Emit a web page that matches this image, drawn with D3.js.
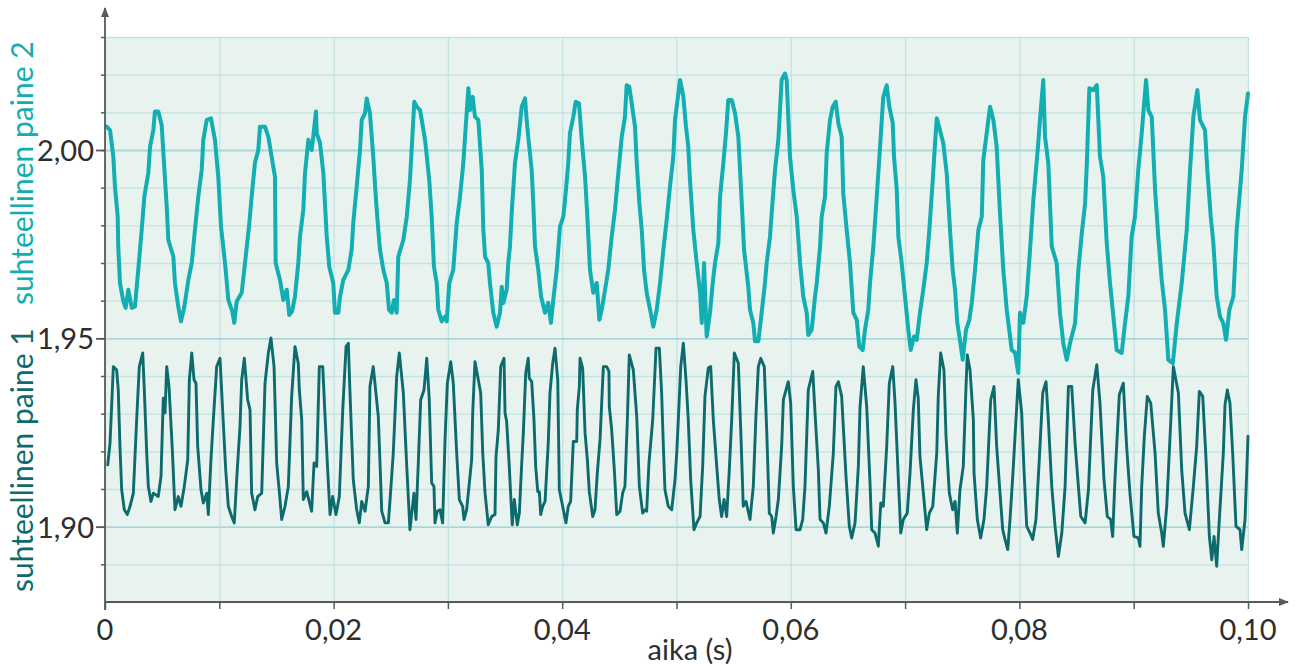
<!DOCTYPE html>
<html>
<head>
<meta charset="utf-8">
<script src="https://cdn.jsdelivr.net/npm/d3@7"></script>
<style>
  body { margin: 0; background: #ffffff; }
  svg { display: block; }
  text { font-family: Lato, "Open Sans", "Noto Sans", sans-serif; }
</style>
</head>
<body>
<svg id="chart" width="1296" height="665"></svg>
<script>
// Relative pressure 2 (upper trace): [time in ms, pressure]
const paine2 = [
  [0.15,2.0062],[0.44,2.0053],[0.73,1.9982],[0.87,1.9903],[1.11,1.9823],[1.16,1.9744],[1.31,1.9647],[1.60,1.9598],[1.81,1.9581],[2.04,1.9629],
  [2.34,1.9581],[2.62,1.9584],[2.91,1.9682],[3.21,1.9788],[3.44,1.9876],[3.79,1.9939],[3.94,2.0009],[4.23,2.0053],[4.37,2.0102],[4.66,2.0102],
  [4.96,2.0066],[5.16,1.9966],[5.40,1.9850],[5.54,1.9761],[5.98,1.9717],[6.12,1.9647],[6.41,1.9584],[6.65,1.9545],[6.94,1.9584],[7.29,1.9655],
  [7.59,1.9700],[7.87,1.9788],[8.16,1.9876],[8.46,1.9947],[8.60,2.0027],[8.90,2.0080],[9.27,2.0084],[9.62,2.0027],[9.91,1.9929],[10.15,1.9797],
  [10.50,1.9700],[10.79,1.9602],[11.14,1.9571],[11.31,1.9541],[11.52,1.9598],[11.96,1.9621],[12.25,1.9700],[12.60,1.9797],[12.83,1.9876],[13.12,1.9966],
  [13.41,2.0000],[13.56,2.0062],[14.00,2.0062],[14.29,2.0035],[14.58,1.9982],[14.87,1.9929],[14.93,1.9700],[15.31,1.9655],[15.60,1.9602],[15.90,1.9629],
  [16.12,1.9562],[16.36,1.9571],[16.62,1.9611],[16.91,1.9700],[17.06,1.9770],[17.35,1.9841],[17.50,1.9939],[17.79,2.0027],[18.08,2.0000],[18.22,2.0035],
  [18.46,2.0102],[18.52,2.0045],[18.81,2.0019],[19.10,1.9939],[19.40,1.9770],[19.62,1.9690],[19.97,1.9647],[20.12,1.9568],[20.41,1.9568],[20.56,1.9611],
  [20.85,1.9655],[21.29,1.9682],[21.58,1.9735],[21.72,1.9806],[22.02,1.9903],[22.31,2.0000],[22.46,2.0080],[22.75,2.0098],[22.90,2.0137],[23.18,2.0098],
  [23.47,1.9982],[23.71,1.9867],[23.91,1.9788],[24.06,1.9735],[24.35,1.9682],[24.65,1.9647],[24.85,1.9576],[25.08,1.9568],[25.28,1.9602],[25.52,1.9568],
  [25.66,1.9717],[26.10,1.9761],[26.40,1.9823],[26.68,1.9920],[26.89,2.0035],[27.06,2.0128],[27.27,2.0115],[27.56,2.0106],[27.71,2.0080],[28.00,2.0027],
  [28.37,1.9920],[28.58,1.9823],[28.78,1.9690],[29.02,1.9647],[29.16,1.9576],[29.46,1.9545],[29.75,1.9558],[29.90,1.9545],[30.12,1.9647],[30.47,1.9682],
  [30.77,1.9806],[31.06,1.9876],[31.35,1.9966],[31.56,2.0062],[31.79,2.0164],[31.93,2.0106],[32.17,2.0141],[32.37,2.0088],[32.66,2.0080],[32.96,1.9947],
  [33.10,1.9788],[33.25,1.9717],[33.53,1.9700],[33.68,1.9647],[33.97,1.9568],[34.27,1.9531],[34.56,1.9568],[34.71,1.9637],[34.85,1.9594],[35.14,1.9629],
  [35.28,1.9700],[35.43,1.9744],[35.58,1.9833],[35.87,1.9966],[36.16,2.0027],[36.46,2.0115],[36.75,2.0137],[36.89,2.0080],[37.03,2.0035],[37.33,1.9947],
  [37.47,1.9859],[37.62,1.9744],[37.91,1.9682],[38.15,1.9611],[38.50,1.9568],[38.78,1.9594],[39.02,1.9541],[39.22,1.9602],[39.52,1.9682],[39.81,1.9797],
  [40.10,1.9823],[40.33,1.9894],[40.53,1.9966],[40.68,2.0045],[40.97,2.0088],[41.18,2.0128],[41.47,2.0124],[41.71,2.0027],[42.00,1.9929],[42.20,1.9823],
  [42.43,1.9682],[42.72,1.9621],[43.02,1.9647],[43.25,1.9549],[43.46,1.9576],[43.75,1.9629],[44.03,1.9682],[44.33,1.9770],[44.62,1.9841],[44.91,1.9939],
  [45.21,2.0035],[45.49,2.0088],[45.64,2.0172],[45.87,2.0168],[46.08,2.0124],[46.37,2.0062],[46.52,1.9966],[46.75,1.9859],[46.96,1.9788],[47.16,1.9682],
  [47.39,1.9621],[47.74,1.9568],[47.97,1.9531],[48.27,1.9576],[48.56,1.9647],[48.85,1.9735],[49.14,1.9814],[49.43,1.9903],[49.72,1.9982],[49.87,2.0080],
  [50.31,2.0186],[50.60,2.0141],[50.83,2.0062],[51.03,2.0009],[51.18,1.9920],[51.47,1.9788],[51.77,1.9700],[52.06,1.9621],[52.21,1.9541],[52.41,1.9700],
  [52.64,1.9505],[52.93,1.9568],[53.17,1.9647],[53.37,1.9700],[53.66,1.9753],[53.81,1.9876],[54.10,1.9966],[54.33,2.0045],[54.53,2.0133],[54.83,2.0133],
  [55.12,2.0098],[55.41,2.0035],[55.71,1.9859],[55.91,1.9735],[56.28,1.9637],[56.43,1.9576],[56.72,1.9541],[56.87,1.9492],[57.16,1.9492],[57.45,1.9568],
  [57.74,1.9647],[57.89,1.9700],[58.18,1.9770],[58.33,1.9833],[58.62,1.9947],[58.91,2.0027],[59.20,2.0186],[59.49,2.0203],[59.64,2.0186],[59.93,1.9982],
  [60.22,1.9894],[60.52,1.9823],[60.81,1.9700],[61.09,1.9611],[61.39,1.9568],[61.53,1.9509],[61.83,1.9523],[62.12,1.9611],[62.27,1.9647],[62.56,1.9744],
  [62.70,1.9823],[62.99,1.9876],[63.14,1.9991],[63.43,2.0080],[63.67,2.0115],[63.93,2.0128],[64.16,2.0071],[64.45,2.0035],[64.59,1.9885],[64.89,1.9788],
  [65.18,1.9700],[65.47,1.9568],[65.77,1.9549],[65.99,1.9478],[66.29,1.9469],[66.49,1.9523],[66.78,1.9576],[66.93,1.9647],[67.22,1.9744],[67.52,1.9876],
  [67.81,2.0009],[68.09,2.0141],[68.39,2.0172],[68.62,2.0115],[68.92,2.0071],[69.03,1.9982],[69.27,1.9894],[69.41,1.9770],[69.70,1.9700],[69.99,1.9611],
  [70.28,1.9523],[70.49,1.9469],[70.78,1.9505],[71.02,1.9496],[71.30,1.9568],[71.59,1.9629],[71.89,1.9700],[72.12,1.9788],[72.42,1.9920],[72.62,2.0018],
  [72.77,2.0084],[73.05,2.0053],[73.34,2.0018],[73.64,1.9938],[73.93,1.9788],[74.16,1.9682],[74.37,1.9629],[74.57,1.9540],[74.80,1.9496],[75.04,1.9443],
  [75.33,1.9523],[75.62,1.9549],[75.83,1.9594],[76.12,1.9682],[76.41,1.9788],[76.71,1.9823],[76.84,1.9973],[77.14,2.0045],[77.43,2.0115],[77.72,2.0080],
  [78.01,2.0009],[78.30,1.9833],[78.59,1.9682],[78.89,1.9576],[79.33,1.9469],[79.62,1.9462],[79.90,1.9408],[80.05,1.9568],[80.34,1.9541],[80.64,1.9611],
  [80.93,1.9735],[81.22,1.9867],[81.65,2.0018],[81.80,2.0080],[82.09,2.0186],[82.24,2.0035],[82.53,1.9965],[82.83,1.9744],[83.26,1.9700],[83.55,1.9568],
  [83.84,1.9487],[84.14,1.9443],[84.43,1.9487],[84.87,1.9540],[85.16,1.9682],[85.46,1.9779],[85.75,1.9859],[85.90,1.9965],[86.12,2.0164],[86.47,2.0159],
  [86.77,2.0172],[87.05,1.9982],[87.34,1.9929],[87.64,1.9753],[87.93,1.9646],[88.22,1.9558],[88.51,1.9469],[88.95,1.9461],[89.24,1.9540],[89.53,1.9611],
  [89.82,1.9770],[90.11,1.9823],[90.40,1.9947],[90.70,2.0044],[91.08,2.0186],[91.28,2.0106],[91.58,2.0088],[91.87,1.9894],[92.15,1.9770],[92.45,1.9655],
  [92.74,1.9576],[93.03,1.9443],[93.42,1.9434],[93.77,1.9540],[94.20,1.9646],[94.64,1.9788],[94.93,1.9947],[95.22,2.0088],[95.57,2.0159],[95.80,2.0080],
  [96.24,2.0053],[96.44,1.9947],[96.74,1.9823],[96.97,1.9753],[97.26,1.9611],[97.55,1.9558],[97.84,1.9540],[98.08,1.9496],[98.37,1.9576],[98.72,1.9611],
  [99.01,1.9788],[99.45,1.9947],[99.74,2.0088],[100.0,2.0150]
];

// Relative pressure 1 (lower trace): [time in ms, pressure]
const paine1 = [
  [0.24,1.9164],[0.44,1.9222],[0.73,1.9425],[1.02,1.9416],[1.16,1.9363],[1.31,1.9213],[1.46,1.9098],[1.69,1.9045],[1.95,1.9032],[2.19,1.9054],
  [2.48,1.9089],[2.77,1.9284],[3.00,1.9425],[3.30,1.9461],[3.44,1.9363],[3.65,1.9195],[3.79,1.9107],[4.02,1.9067],[4.23,1.9089],[4.66,1.9080],
  [4.90,1.9133],[5.10,1.9341],[5.25,1.9302],[5.40,1.9425],[5.60,1.9372],[5.89,1.9204],[6.12,1.9045],[6.41,1.9080],[6.65,1.9054],[6.94,1.9107],
  [7.24,1.9178],[7.38,1.9390],[7.59,1.9461],[7.79,1.9390],[7.96,1.9381],[8.11,1.9213],[8.40,1.9098],[8.60,1.9063],[8.90,1.9089],[9.04,1.9032],
  [9.27,1.9178],[9.48,1.9284],[9.77,1.9425],[10.06,1.9447],[10.26,1.9328],[10.56,1.9151],[10.79,1.9054],[11.08,1.9027],[11.31,1.9010],[11.52,1.9125],
  [11.81,1.9266],[11.96,1.9390],[12.19,1.9447],[12.48,1.9337],[12.69,1.9310],[12.83,1.9089],[13.12,1.9045],[13.36,1.9080],[13.71,1.9089],[14.00,1.9381],
  [14.29,1.9461],[14.52,1.9501],[14.79,1.9425],[15.02,1.9169],[15.25,1.9093],[15.46,1.9019],[15.75,1.9054],[16.04,1.9107],[16.33,1.9346],[16.62,1.9478],
  [16.91,1.9434],[17.00,1.9363],[17.21,1.9284],[17.35,1.9072],[17.65,1.9093],[18.08,1.9041],[18.29,1.9169],[18.52,1.9160],[18.75,1.9425],[19.05,1.9425],
  [19.25,1.9293],[19.48,1.9151],[19.69,1.9032],[19.92,1.9080],[20.21,1.9032],[20.50,1.9080],[20.80,1.9310],[21.09,1.9478],[21.29,1.9487],[21.43,1.9359],
  [21.72,1.9125],[22.02,1.9045],[22.25,1.9010],[22.46,1.9067],[22.75,1.9041],[23.04,1.9107],[23.18,1.9372],[23.47,1.9425],[23.91,1.9293],[24.06,1.9169],
  [24.21,1.9041],[24.50,1.9010],[24.79,1.9010],[24.94,1.9072],[25.22,1.9195],[25.52,1.9399],[25.75,1.9461],[26.10,1.9355],[26.40,1.9160],[26.68,1.8992],
  [27.03,1.9089],[27.21,1.9019],[27.41,1.9169],[27.62,1.9337],[27.91,1.9363],[28.15,1.9447],[28.37,1.9337],[28.58,1.9116],[28.78,1.9107],[28.87,1.9010],
  [29.07,1.9041],[29.31,1.9045],[29.54,1.9010],[29.75,1.9231],[29.95,1.9381],[30.25,1.9438],[30.47,1.9381],[30.77,1.9195],[31.00,1.9072],[31.29,1.9054],
  [31.41,1.9019],[31.64,1.9045],[32.08,1.9178],[32.17,1.9302],[32.37,1.9438],[32.66,1.9390],[32.87,1.9355],[33.05,1.9195],[33.25,1.9089],[33.53,1.9005],
  [33.83,1.9027],[34.12,1.9032],[34.21,1.9186],[34.41,1.9257],[34.62,1.9425],[34.91,1.9447],[35.00,1.9302],[35.14,1.9279],[35.37,1.9160],[35.50,1.9080],
  [35.63,1.9005],[35.81,1.9072],[36.07,1.9005],[36.25,1.9036],[36.46,1.9169],[36.60,1.9249],[36.81,1.9408],[37.03,1.9447],[37.12,1.9394],[37.33,1.9385],
  [37.53,1.9284],[37.68,1.9160],[37.86,1.9093],[38.00,1.9093],[38.12,1.9032],[38.29,1.9054],[38.50,1.9067],[38.78,1.9222],[38.93,1.9355],[39.17,1.9434],
  [39.37,1.9474],[39.61,1.9390],[39.75,1.9098],[40.04,1.9054],[40.33,1.9010],[40.53,1.9054],[40.74,1.9067],[40.97,1.9226],[41.27,1.9226],[41.32,1.9310],
  [41.50,1.9372],[41.56,1.9447],[41.79,1.9421],[42.00,1.9249],[42.20,1.9178],[42.37,1.9093],[42.67,1.9027],[42.87,1.9045],[43.07,1.9142],[43.31,1.9231],
  [43.60,1.9425],[43.89,1.9425],[44.09,1.9412],[44.12,1.9319],[44.33,1.9257],[44.56,1.9151],[44.77,1.9032],[45.06,1.9041],[45.29,1.9089],[45.49,1.9107],
  [45.70,1.9284],[45.87,1.9456],[46.22,1.9416],[46.52,1.9293],[46.75,1.9107],[47.04,1.9036],[47.24,1.9045],[47.39,1.9041],[47.59,1.9169],[47.92,1.9284],
  [48.21,1.9474],[48.50,1.9474],[48.70,1.9355],[48.85,1.9213],[48.99,1.9098],[49.28,1.9054],[49.58,1.9045],[49.87,1.9125],[50.02,1.9195],[50.16,1.9284],
  [50.37,1.9425],[50.60,1.9487],[50.83,1.9390],[51.03,1.9284],[51.24,1.9125],[51.53,1.8992],[51.77,1.9010],[52.06,1.9027],[52.29,1.9160],[52.49,1.9346],
  [52.78,1.9421],[52.99,1.9425],[53.22,1.9284],[53.52,1.9160],[53.74,1.9072],[53.95,1.9027],[54.16,1.9072],[54.39,1.9027],[54.62,1.9151],[54.83,1.9284],
  [55.06,1.9461],[55.41,1.9434],[55.62,1.9257],[55.84,1.9054],[56.08,1.9067],[56.43,1.9019],[56.72,1.9107],[56.95,1.9293],[57.16,1.9425],[57.37,1.9447],
  [57.68,1.9425],[57.89,1.9257],[58.12,1.9036],[58.33,1.9027],[58.47,1.8983],[58.71,1.9027],[58.91,1.9072],[59.20,1.9213],[59.35,1.9337],[59.58,1.9363],
  [59.78,1.9385],[59.99,1.9328],[60.22,1.9107],[60.46,1.8992],[60.81,1.8992],[61.04,1.9019],[61.24,1.9107],[61.53,1.9363],[61.92,1.9412],[62.12,1.9302],
  [62.41,1.9151],[62.56,1.9019],[62.85,1.9010],[63.08,1.8983],[63.37,1.9054],[63.72,1.9195],[63.95,1.9372],[64.16,1.9385],[64.45,1.9346],[64.83,1.9133],
  [65.12,1.9001],[65.33,1.8970],[65.62,1.9010],[65.91,1.9160],[66.06,1.9319],[66.34,1.9425],[66.64,1.9319],[66.93,1.9116],[67.08,1.8992],[67.37,1.8983],
  [67.66,1.8948],[67.87,1.9063],[68.09,1.9054],[68.39,1.9213],[68.62,1.9381],[68.92,1.9425],[69.12,1.9328],[69.41,1.9125],[69.62,1.8983],[69.84,1.9019],
  [70.19,1.9036],[70.43,1.9142],[70.72,1.9310],[70.95,1.9390],[71.15,1.9341],[71.30,1.9186],[71.65,1.9072],[71.89,1.8992],[72.12,1.9036],[72.42,1.9054],
  [72.77,1.9195],[72.90,1.9346],[73.11,1.9461],[73.40,1.9416],[73.58,1.9240],[73.87,1.9089],[74.16,1.9045],[74.37,1.9067],[74.57,1.8983],[74.80,1.9098],
  [75.09,1.9160],[75.33,1.9372],[75.44,1.9456],[75.68,1.9416],[75.97,1.9284],[76.03,1.9142],[76.32,1.9019],[76.61,1.8970],[76.90,1.9019],[77.14,1.9107],
  [77.49,1.9337],[77.78,1.9372],[78.01,1.9213],[78.24,1.9116],[78.54,1.8992],[78.74,1.8966],[78.98,1.8939],[79.18,1.9019],[79.47,1.9160],[79.70,1.9284],
  [79.90,1.9390],[80.20,1.9302],[80.40,1.9151],[80.64,1.9001],[80.93,1.8983],[81.16,1.8966],[81.45,1.9019],[81.74,1.9178],[82.04,1.9355],[82.33,1.9385],
  [82.53,1.9284],[82.83,1.9107],[83.12,1.9001],[83.41,1.8921],[83.71,1.8983],[84.00,1.9107],[84.29,1.9372],[84.58,1.9372],[84.87,1.9222],[85.16,1.9107],
  [85.37,1.9027],[85.75,1.9010],[86.04,1.9098],[86.42,1.9363],[86.77,1.9430],[87.05,1.9328],[87.40,1.9125],[87.69,1.9027],[87.99,1.9019],[88.16,1.8974],
  [88.36,1.9125],[88.74,1.9350],[89.09,1.9381],[89.38,1.9213],[89.67,1.9089],[90.02,1.8974],[90.40,1.8970],[90.55,1.8948],[90.70,1.9107],[90.93,1.9240],
  [91.19,1.9346],[91.49,1.9328],[91.87,1.9195],[92.15,1.9036],[92.45,1.8983],[92.59,1.8948],[92.89,1.9054],[93.18,1.9240],[93.47,1.9425],[93.91,1.9355],
  [94.20,1.9151],[94.49,1.9036],[94.87,1.8992],[95.22,1.9107],[95.51,1.9213],[95.74,1.9359],[96.04,1.9346],[96.33,1.9178],[96.62,1.8974],[96.83,1.8912],
  [97.03,1.8974],[97.26,1.8895],[97.49,1.9019],[97.84,1.9195],[97.99,1.9324],[98.19,1.9363],[98.42,1.9328],[98.66,1.9195],[98.95,1.9001],[99.30,1.8992],
  [99.45,1.8939],[99.74,1.9019],[100.0,1.9240]
];

// Axis ticks and labels (time in ms, labels in seconds)
const xTickValues = [0, 20, 40, 60, 80, 100];
const xTickLabels = ["0", "0,02", "0,04", "0,06", "0,08", "0,10"];
const xMinorTicks = [0, 10, 20, 30, 40, 50, 60, 70, 80, 90, 100];
const yTickValues = [1.90, 1.95, 2.00];
const yTickLabels = ["1,90", "1,95", "2,00"];
const yMinorTicks = [1.88, 1.89, 1.90, 1.91, 1.92, 1.93, 1.94, 1.95, 1.96, 1.97, 1.98, 1.99, 2.00, 2.01, 2.02, 2.03];

const xTitle = "aika (s)";
const yTitle2 = "suhteellinen paine 2";
const yTitle1 = "suhteellinen paine 1";

const colors = {
  light: "#12aeb1",
  dark: "#0d6b6d",
  axis: "#5a5a5a",
  grid: "#c2e3e2",
  gridMajor: "#aad8d8",
  bg: "#e8f3ef",
  text: "#2e2e2e"
};

const svg = d3.select("#chart");
const x = d3.scaleLinear().domain([0, 100]).range([105, 1248]);
const y = d3.scaleLinear().domain([1.88, 2.03]).range([602, 37]);

// plot background
svg.append("rect")
  .attr("x", x(0)).attr("y", y(2.03))
  .attr("width", x(100) - x(0)).attr("height", y(1.88) - y(2.03))
  .attr("fill", colors.bg);

// vertical grid
const gx = svg.append("g")
  .attr("transform", `translate(0,${y(1.88)})`)
  .call(d3.axisBottom(x).tickValues(xMinorTicks).tickSize(-(y(1.88) - y(2.03))).tickFormat(""));
gx.select(".domain").remove();
gx.selectAll("line").attr("stroke", colors.grid).attr("stroke-width", 1.3);

// horizontal grid
const gy = svg.append("g")
  .attr("transform", `translate(${x(0)},0)`)
  .call(d3.axisLeft(y).tickValues(yMinorTicks).tickSize(-(x(100) - x(0))).tickFormat(""));
gy.select(".domain").remove();
gy.selectAll("line")
  .attr("stroke", d => yTickValues.some(v => Math.abs(v - d) < 1e-6) ? colors.gridMajor : colors.grid)
  .attr("stroke-width", d => yTickValues.some(v => Math.abs(v - d) < 1e-6) ? 1.8 : 1.3);

// traces
const line = d3.line().x(d => x(d[0])).y(d => y(d[1]));
svg.append("path").datum(paine2)
  .attr("fill", "none").attr("stroke", colors.light)
  .attr("stroke-width", 4).attr("stroke-linejoin", "round").attr("stroke-linecap", "round")
  .attr("d", line);
svg.append("path").datum(paine1)
  .attr("fill", "none").attr("stroke", colors.dark)
  .attr("stroke-width", 2.9).attr("stroke-linejoin", "round").attr("stroke-linecap", "round")
  .attr("d", line);

// axis ticks
const ax = svg.append("g")
  .attr("transform", `translate(0,${y(1.88)})`)
  .call(d3.axisBottom(x).tickValues(xMinorTicks).tickSize(7).tickFormat(""));
ax.select(".domain").remove();
ax.selectAll("line").attr("stroke", colors.axis).attr("stroke-width", 1.5);

const ayMinor = svg.append("g")
  .attr("transform", `translate(${x(0)},0)`)
  .call(d3.axisLeft(y).tickValues(yMinorTicks.filter(v => v > 1.885)).tickSize(4).tickFormat(""));
ayMinor.select(".domain").remove();
ayMinor.selectAll("line").attr("stroke", colors.axis).attr("stroke-width", 1.5);

const ayMajor = svg.append("g")
  .attr("transform", `translate(${x(0)},0)`)
  .call(d3.axisLeft(y).tickValues(yTickValues).tickSize(9).tickFormat(""));
ayMajor.select(".domain").remove();
ayMajor.selectAll("line").attr("stroke", colors.axis).attr("stroke-width", 1.8);

// axis lines with arrowheads
const defs = svg.append("defs");
defs.append("marker")
  .attr("id", "arrow").attr("viewBox", "0 0 10 10")
  .attr("refX", 9).attr("refY", 5)
  .attr("markerWidth", 10).attr("markerHeight", 10)
  .attr("markerUnits", "userSpaceOnUse")
  .attr("orient", "auto")
  .append("path").attr("d", "M0,1 L10,5 L0,9 Z").attr("fill", colors.axis);

svg.append("line")
  .attr("x1", x(0)).attr("y1", y(1.88) + 8)
  .attr("x2", x(0)).attr("y2", 8)
  .attr("stroke", colors.axis).attr("stroke-width", 1.8)
  .attr("marker-end", "url(#arrow)");
svg.append("line")
  .attr("x1", x(0)).attr("y1", y(1.88))
  .attr("x2", 1288).attr("y2", y(1.88))
  .attr("stroke", colors.axis).attr("stroke-width", 1.8)
  .attr("marker-end", "url(#arrow)");

// tick labels
svg.append("g").selectAll("text")
  .data(xTickValues)
  .join("text")
  .attr("x", d => x(d)).attr("y", y(1.88) + 38)
  .attr("text-anchor", "middle")
  .attr("font-size", 29).attr("fill", colors.text)
  .text((d, i) => xTickLabels[i]);

svg.append("g").selectAll("text")
  .data(yTickValues)
  .join("text")
  .attr("x", x(0) - 11).attr("y", d => y(d) + 11)
  .attr("text-anchor", "end")
  .attr("font-size", 29).attr("fill", colors.text)
  .text((d, i) => yTickLabels[i]);

// axis titles
svg.append("text")
  .attr("x", 690).attr("y", 660)
  .attr("text-anchor", "middle")
  .attr("font-size", 29).attr("fill", colors.text)
  .text(xTitle);

svg.append("text")
  .attr("transform", `translate(33,305) rotate(-90)`)
  .attr("text-anchor", "start")
  .attr("font-size", 30).attr("fill", colors.light)
  .text(yTitle2);

svg.append("text")
  .attr("transform", `translate(33,592) rotate(-90)`)
  .attr("text-anchor", "start")
  .attr("font-size", 30).attr("fill", colors.dark)
  .text(yTitle1);
</script>
</body>
</html>
